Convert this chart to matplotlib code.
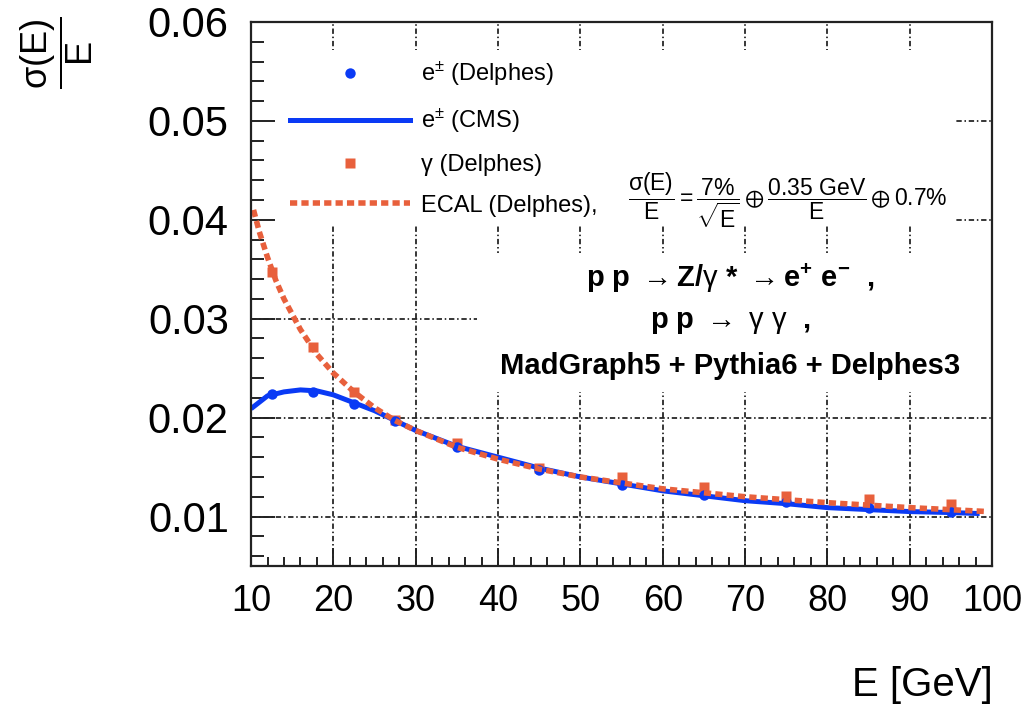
import matplotlib
matplotlib.use("Agg")
import matplotlib.pyplot as plt
from matplotlib.lines import Line2D
from matplotlib.patches import Rectangle

plt.rcParams['font.family'] = ['Liberation Sans', 'DejaVu Sans']
plt.rcParams['mathtext.fontset'] = 'custom'
plt.rcParams['mathtext.rm'] = 'Liberation Sans'
plt.rcParams['mathtext.it'] = 'Liberation Sans:italic'
plt.rcParams['mathtext.bf'] = 'Liberation Sans:bold'
plt.rcParams['mathtext.default'] = 'regular'

# ---------------- data ----------------
energy_bins = [12.5, 17.5, 22.5, 27.5, 35, 45, 55, 65, 75, 85, 95]
electron_delphes = [0.0224, 0.0226, 0.0214, 0.0197, 0.0170, 0.0147,
                    0.0132, 0.0122, 0.0115, 0.0109, 0.0105]
photon_delphes = [0.0347, 0.0271, 0.0226, 0.0198, 0.0174, 0.0149,
                  0.0140, 0.0130, 0.0121, 0.0118, 0.0113]

cms_energy = [10, 12, 14, 16, 18, 20, 25, 30, 35, 40, 45, 50, 55, 60,
              65, 70, 75, 80, 85, 90, 95, 98.5]
cms_resolution = [0.0209, 0.0222, 0.0226, 0.0228, 0.0227, 0.0223, 0.0207,
                  0.0187, 0.0171, 0.0160, 0.0149, 0.0140, 0.0133, 0.0126,
                  0.0121, 0.0116, 0.0113, 0.0109, 0.0107, 0.0105, 0.0104,
                  0.0103]

ecal_energy = [10.3, 11, 12, 13, 14, 16, 18, 20, 22.5, 25, 27.5, 30, 35,
               40, 45, 50, 60, 70, 80, 90, 99.5]
ecal_resolution = [0.0410, 0.0388, 0.0362, 0.0339, 0.0320, 0.0289, 0.0264,
                   0.0245, 0.0226, 0.0210, 0.0197, 0.0187, 0.0170, 0.0158,
                   0.0148, 0.0140, 0.0128, 0.0120, 0.0114, 0.0109, 0.0105]

x_ticks = [10, 20, 30, 40, 50, 60, 70, 80, 90, 100]
y_ticks = [0.01, 0.02, 0.03, 0.04, 0.05, 0.06]

BLUE = '#0A3AF5'
ORANGE = '#E8603C'

fig = plt.figure(figsize=(10.28, 7.08), dpi=100)
ax = fig.add_axes([0.2442, 0.2006, 0.7208, 0.7684])
ax.set_xlim(10, 100)
ax.set_ylim(0.005, 0.06)

# grid (dash-dot)
for gx in x_ticks[1:-1]:
    ax.axvline(gx, color='black', lw=1.1, dashes=(3.5, 1.8, 1.0, 1.8), zorder=1)
for gy in y_ticks[:-1]:
    ax.axhline(gy, color='black', lw=1.1, dashes=(3.5, 1.8, 1.0, 1.8), zorder=1)

# white boxes (legend + text pave) hiding the grid
ax.add_patch(Rectangle((0.0, 0.625), 0.95, 0.3235, transform=ax.transAxes,
                       facecolor='white', edgecolor='none', zorder=1.5))
ax.add_patch(Rectangle((0.305, 0.32), 0.695, 0.255, transform=ax.transAxes,
                       facecolor='white', edgecolor='none', zorder=1.5))

# curves
ax.plot(cms_energy, cms_resolution, color=BLUE, lw=3.6, zorder=3,
        solid_capstyle='butt')
ax.plot(ecal_energy, ecal_resolution, color=ORANGE, lw=4.0, zorder=4,
        dashes=(1.3, 0.75), dash_capstyle='butt')
ax.plot(energy_bins, electron_delphes, 'o', color=BLUE, ms=7.5, mec='none', zorder=3.5)
ax.plot(energy_bins, photon_delphes, 's', color=ORANGE, ms=7.5, mec='none', zorder=3.2)

# axes styling
for s in ax.spines.values():
    s.set_linewidth(1.6)
    s.set_color('#222222')
    s.set_zorder(6)
ax.set_xticks(x_ticks)
ax.set_xticklabels([str(v) for v in x_ticks])
ax.set_yticks(y_ticks)
ax.set_yticklabels([f'{v:.2f}' for v in y_ticks])
ax.set_xticks([v for v in range(12, 100, 2) if v % 10 != 0], minor=True)
ax.set_yticks([0.006 + 0.002 * i for i in range(27) if (i + 3) % 5 != 0], minor=True)
ax.tick_params(axis='both', which='both', direction='in', top=False, right=False,
               color='#222222', width=1.4)
ax.tick_params(axis='x', which='major', length=13, pad=13, labelsize=26)
ax.tick_params(axis='x', which='minor', length=6.5)
ax.tick_params(axis='y', which='major', length=17, pad=16, labelsize=30)
ax.tick_params(axis='y', which='minor', length=9)

# axis titles
fig.text(0.966, 0.006, 'E [GeV]', ha='right', va='bottom', fontsize=29)
fig.text(0.055, 1 - 53 / 708, r'$\dfrac{σ(E)}{E}$', rotation=90,
         ha='center', va='center', fontsize=26)

# legend
handles = [
    Line2D([], [], marker='o', ls='none', color=BLUE, ms=7.5, mec='none'),
    Line2D([], [], color=BLUE, lw=3.6),
    Line2D([], [], marker='s', ls='none', color=ORANGE, ms=7.5, mec='none'),
    Line2D([], [], color=ORANGE, lw=4.0, dashes=(1.3, 0.75), dash_capstyle='butt'),
]
labels = [r'e$^{\pm}$ (Delphes)', r'e$^{\pm}$ (CMS)', 'γ (Delphes)', 'ECAL (Delphes),']
leg = ax.legend(handles, labels, loc='upper left', bbox_to_anchor=(0.052, 0.93),
                frameon=False, fontsize=17, handlelength=5.08, handletextpad=0.5,
                labelspacing=0.79, borderpad=0, borderaxespad=0)
leg.set_zorder(7)

ax.text(0.509, 0.672,
        r'$\dfrac{σ(E)}{E} = \dfrac{7\%}{\sqrt{E}} \oplus \dfrac{0.35\ GeV}{E} \oplus 0.7\%$',
        transform=ax.transAxes, ha='left', va='center', fontsize=16.5, zorder=7)

# physics text
ax.text(0.6464, 0.529, r'p p $\rightarrow$Z/$\mathrm{γ}$ * $\rightarrow$e$^{+}$ e$^{-}$  ,',
        transform=ax.transAxes, ha='center', va='center', fontsize=21,
        fontweight='bold', zorder=7)
ax.text(0.6464, 0.4485, r'p p $\rightarrow$ $\mathrm{γ}$ $\mathrm{γ}$  ,',
        transform=ax.transAxes, ha='center', va='center', fontsize=21,
        fontweight='bold', zorder=7)
ax.text(0.6464, 0.3676, 'MadGraph5 + Pythia6 + Delphes3',
        transform=ax.transAxes, ha='center', va='center', fontsize=21,
        fontweight='bold', zorder=7)

fig.savefig('out.png', dpi=100)
